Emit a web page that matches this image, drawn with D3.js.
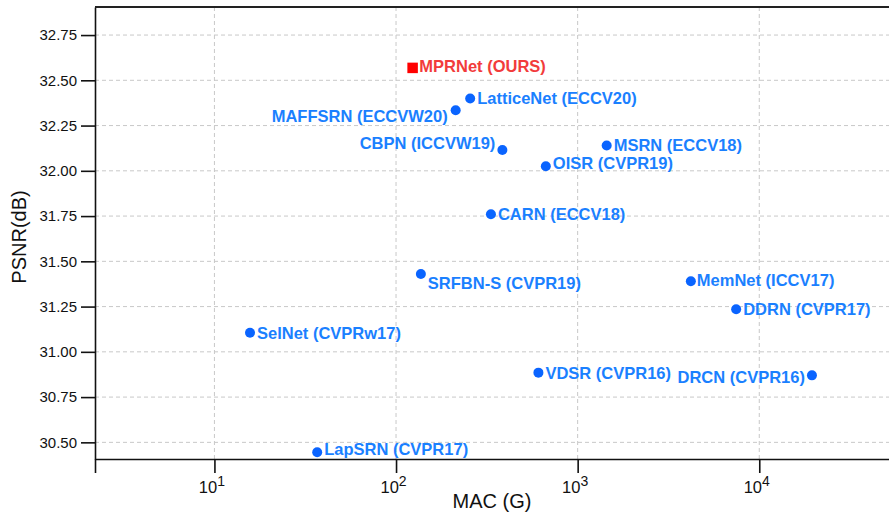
<!DOCTYPE html>
<html>
<head>
<meta charset="utf-8">
<script src="https://cdn.jsdelivr.net/npm/d3@7"></script>
<style>
  body { margin: 0; background: #fff; }
  svg { display: block; font-family: "Liberation Sans", Arial, sans-serif; }
  .grid line { stroke: #c8c8c8; stroke-dasharray: 4,3; stroke-width: 1; }
  .axis path, .axis line { stroke: #111; stroke-width: 1.6; }
  .axis text { fill: #111; font-size: 15px; }
  .axis text.xlab { font-size: 16.5px; }
  .lbl { font-size: 16.5px; font-weight: bold; }
</style>
</head>
<body>
<svg id="chart" width="889" height="514"></svg>
<script>
// model names, MACs (G) and PSNR (dB)
const models = ["MPRNet (OURS)", "LatticeNet (ECCV20)", "MAFFSRN (ECCVW20)", "CBPN (ICCVW19)",
  "OISR (CVPR19)", "MSRN (ECCV18)", "CARN (ECCV18)", "SRFBN-S (CVPR19)", "SelNet (CVPRw17)",
  "VDSR (CVPR16)", "MemNet (ICCV17)", "DDRN (CVPR17)", "DRCN (CVPR16)", "LapSRN (CVPR17)"];
const macs = [123, 256, 213, 385, 668, 1445, 333, 137, 15.7, 608, 4200, 7460, 19500, 36.8];
const psnrs = [32.57, 32.40, 32.335, 32.115, 32.025, 32.14, 31.76, 31.43, 31.105, 30.885, 31.39, 31.235, 30.87, 30.445];

const xTicks = [10, 100, 1000, 10000];
const yTicks = [30.50, 30.75, 31.00, 31.25, 31.50, 31.75, 32.00, 32.25, 32.50, 32.75];

// label placement around the marker: [dx, dy, anchor]
const place = {
  "MPRNet (OURS)": [7, -2, "start"],
  "MAFFSRN (ECCVW20)": [-8, 6, "end"],
  "CBPN (ICCVW19)": [-7, -7, "end"],
  "OISR (CVPR19)": [7, -3, "start"],
  "SRFBN-S (CVPR19)": [7, 9, "start"],
  "MemNet (ICCV17)": [6, -1, "start"],
  "DRCN (CVPR16)": [-7, 2, "end"],
  "LapSRN (CVPR17)": [7, -3, "start"]
};

const svg = d3.select("#chart");
const plotLeft = 95, plotRight = 889, plotTop = 7, plotBottom = 459;

const x = d3.scaleLog().domain([2.2, 51800]).range([plotLeft, plotRight]);
const y = d3.scaleLinear().domain([30.408, 32.905]).range([plotBottom, plotTop]);

// grid
svg.append("g").attr("class", "grid")
  .selectAll("line").data(yTicks).join("line")
  .attr("x1", plotLeft).attr("x2", plotRight)
  .attr("y1", d => y(d)).attr("y2", d => y(d));
svg.append("g").attr("class", "grid")
  .selectAll("line").data(xTicks).join("line")
  .attr("y1", plotTop).attr("y2", plotBottom)
  .attr("x1", d => x(d)).attr("x2", d => x(d));

// axes
const xAxis = d3.axisBottom(x).tickValues([x.domain()[0]].concat(xTicks))
  .tickSize(14).tickSizeOuter(0).tickFormat("");
const gx = svg.append("g").attr("class", "axis")
  .attr("transform", `translate(0,${plotBottom})`).call(xAxis);
gx.selectAll(".tick").filter(d => d !== x.domain()[0])
  .append("text")
  .attr("class", "xlab")
  .attr("y", 34).attr("x", -3).attr("text-anchor", "middle")
  .call(t => {
    t.append("tspan").text("10");
    t.append("tspan").attr("dy", -7).attr("font-size", "14px")
      .text(d => Math.round(Math.log10(d)));
  });

const yAxis = d3.axisLeft(y).tickValues(yTicks).tickSize(14).tickSizeOuter(0)
  .tickPadding(4).tickFormat(d3.format(".2f"));
svg.append("g").attr("class", "axis")
  .attr("transform", `translate(${plotLeft},0)`).call(yAxis);

// top spine
svg.append("line").attr("x1", plotLeft).attr("x2", plotRight).attr("y1", plotTop).attr("y2", plotTop)
  .attr("stroke", "#222").attr("stroke-width", 2);

// axis titles
svg.append("text").attr("x", (plotLeft + plotRight) / 2).attr("y", 508)
  .attr("text-anchor", "middle").attr("font-size", "20px").attr("fill", "#111")
  .text("MAC (G)");
svg.append("text").attr("transform", `translate(26,${(plotTop + plotBottom) / 2 + 4}) rotate(-90)`)
  .attr("text-anchor", "middle").attr("font-size", "20px").attr("fill", "#111")
  .text("PSNR(dB)");

// markers
const pts = models.map((m, i) => ({ name: m, mac: macs[i], psnr: psnrs[i], ours: i === 0 }));

svg.append("g").selectAll("circle").data(pts.filter(d => !d.ours)).join("circle")
  .attr("cx", d => x(d.mac)).attr("cy", d => y(d.psnr)).attr("r", 5)
  .attr("fill", "#0a64ff");
svg.append("g").selectAll("rect").data(pts.filter(d => d.ours)).join("rect")
  .attr("x", d => x(d.mac) - 5).attr("y", d => y(d.psnr) - 5)
  .attr("width", 10.5).attr("height", 10.5).attr("fill", "#ff0000");

svg.append("g").selectAll("text").data(pts).join("text")
  .attr("class", "lbl")
  .attr("x", d => x(d.mac) + (place[d.name] ? place[d.name][0] : 7))
  .attr("y", d => y(d.psnr) + (place[d.name] ? place[d.name][1] : 0) + 5.9)
  .attr("text-anchor", d => place[d.name] ? place[d.name][2] : "start")
  .attr("fill", d => d.ours ? "#f23b3b" : "#1a80ff")
  .text(d => d.name);
</script>
</body>
</html>
